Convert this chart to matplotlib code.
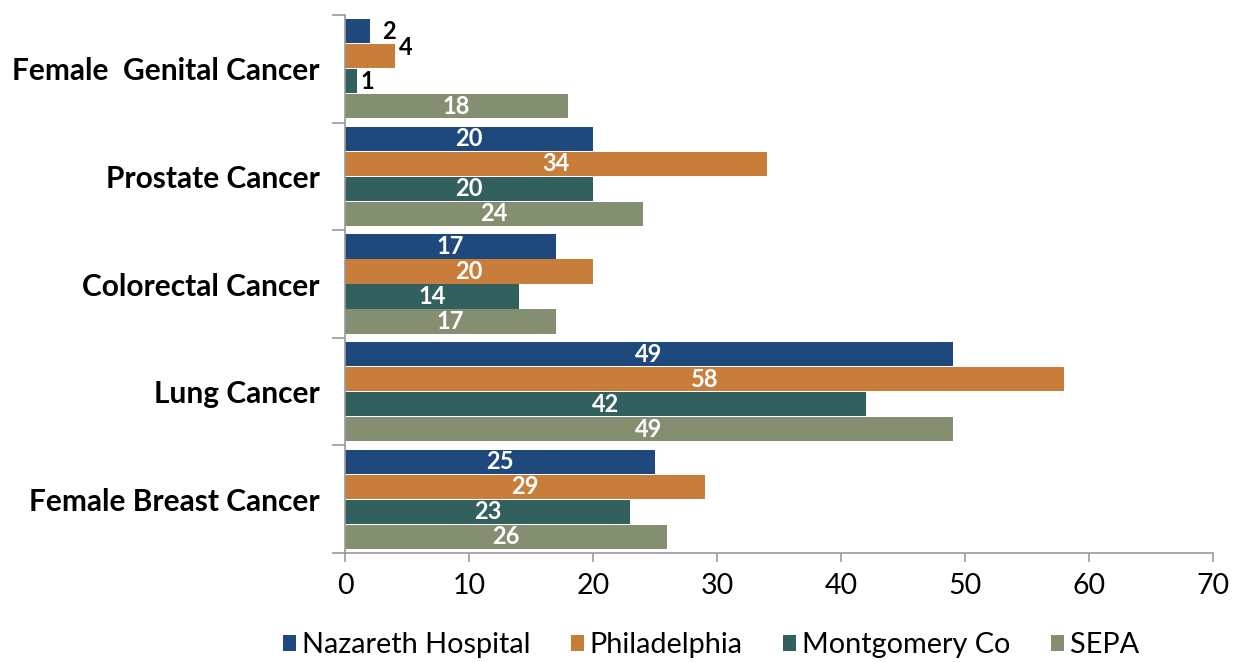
import matplotlib
matplotlib.use("Agg")
import matplotlib.pyplot as plt
import numpy as np

categories = ["Female  Genital Cancer", "Prostate Cancer", "Colorectal Cancer", "Lung Cancer", "Female Breast Cancer"]
series_names = ["Nazareth Hospital", "Philadelphia", "Montgomery Co", "SEPA"]
nazareth = [2, 20, 17, 49, 25]
philadelphia = [4, 34, 20, 58, 29]
montgomery = [1, 20, 14, 42, 23]
sepa = [18, 24, 17, 49, 26]
colors = ["#1F497D", "#C87D3A", "#31605F", "#848F72"]

plt.rcParams['font.family'] = ['Lato', 'DejaVu Sans']

fig = plt.figure(figsize=(12.47, 6.62), dpi=100)
ax = fig.add_axes([345/1247, 1-553/662, (1213-345)/1247, (553-15)/662])

n = len(categories)
centers = np.arange(n)[::-1].astype(float)  # top category at highest y
bh = 0.232
series = [nazareth, philadelphia, montgomery, sepa]
# label nudges (points) for small values drawn outside the bar end
outside_nudge = {(0, 0): (9, 0), (1, 0): (3, 6), (2, 0): (2, 0)}
for i, (vals, name, c) in enumerate(zip(series, series_names, colors)):
    ypos = centers + (1.5 - i) * bh
    ax.barh(ypos, vals, height=bh*0.97, color=c, label=name, zorder=2)
    for j, (y, v) in enumerate(zip(ypos, vals)):
        if v >= 5:
            ax.text(v/2, y, str(v), ha='center', va='center', color='white',
                    fontsize=17, fontweight='bold')
        else:
            dx, dy = outside_nudge.get((i, j), (3, 0))
            ax.annotate(str(v), (v, y), xytext=(dx, dy), textcoords='offset points',
                        ha='left', va='center', color='black',
                        fontsize=17, fontweight='bold')

ax.set_xlim(0, 70)
ax.set_ylim(-0.5, n - 0.5)
ax.set_xticks(np.arange(0, 71, 10))
ax.set_yticks(centers)
ax.set_yticklabels(categories, fontsize=21.5, fontweight='bold')
ax.set_yticks(np.arange(-0.5, n, 1.0), minor=True)
ax.tick_params(axis='y', which='major', length=0, pad=18)
ax.tick_params(axis='y', which='minor', length=9.5, color='#9A9A9A', width=1.2)
ax.tick_params(axis='x', which='major', length=6.5, color='#9A9A9A', width=1.2,
               labelsize=20.5, pad=8)
for s in ['top', 'right']:
    ax.spines[s].set_visible(False)
for s in ['left', 'bottom']:
    ax.spines[s].set_color('#9A9A9A')
    ax.spines[s].set_linewidth(1.2)

handles, labels = ax.get_legend_handles_labels()
leg = fig.legend(handles, labels, loc='center', bbox_to_anchor=(711/1247, 1-645/662),
                 ncol=4, frameon=False, fontsize=20.8, handlelength=0.45, handleheight=0.5,
                 handletextpad=0.2, columnspacing=1.4, borderpad=0)

fig.savefig("out.png", dpi=100)
